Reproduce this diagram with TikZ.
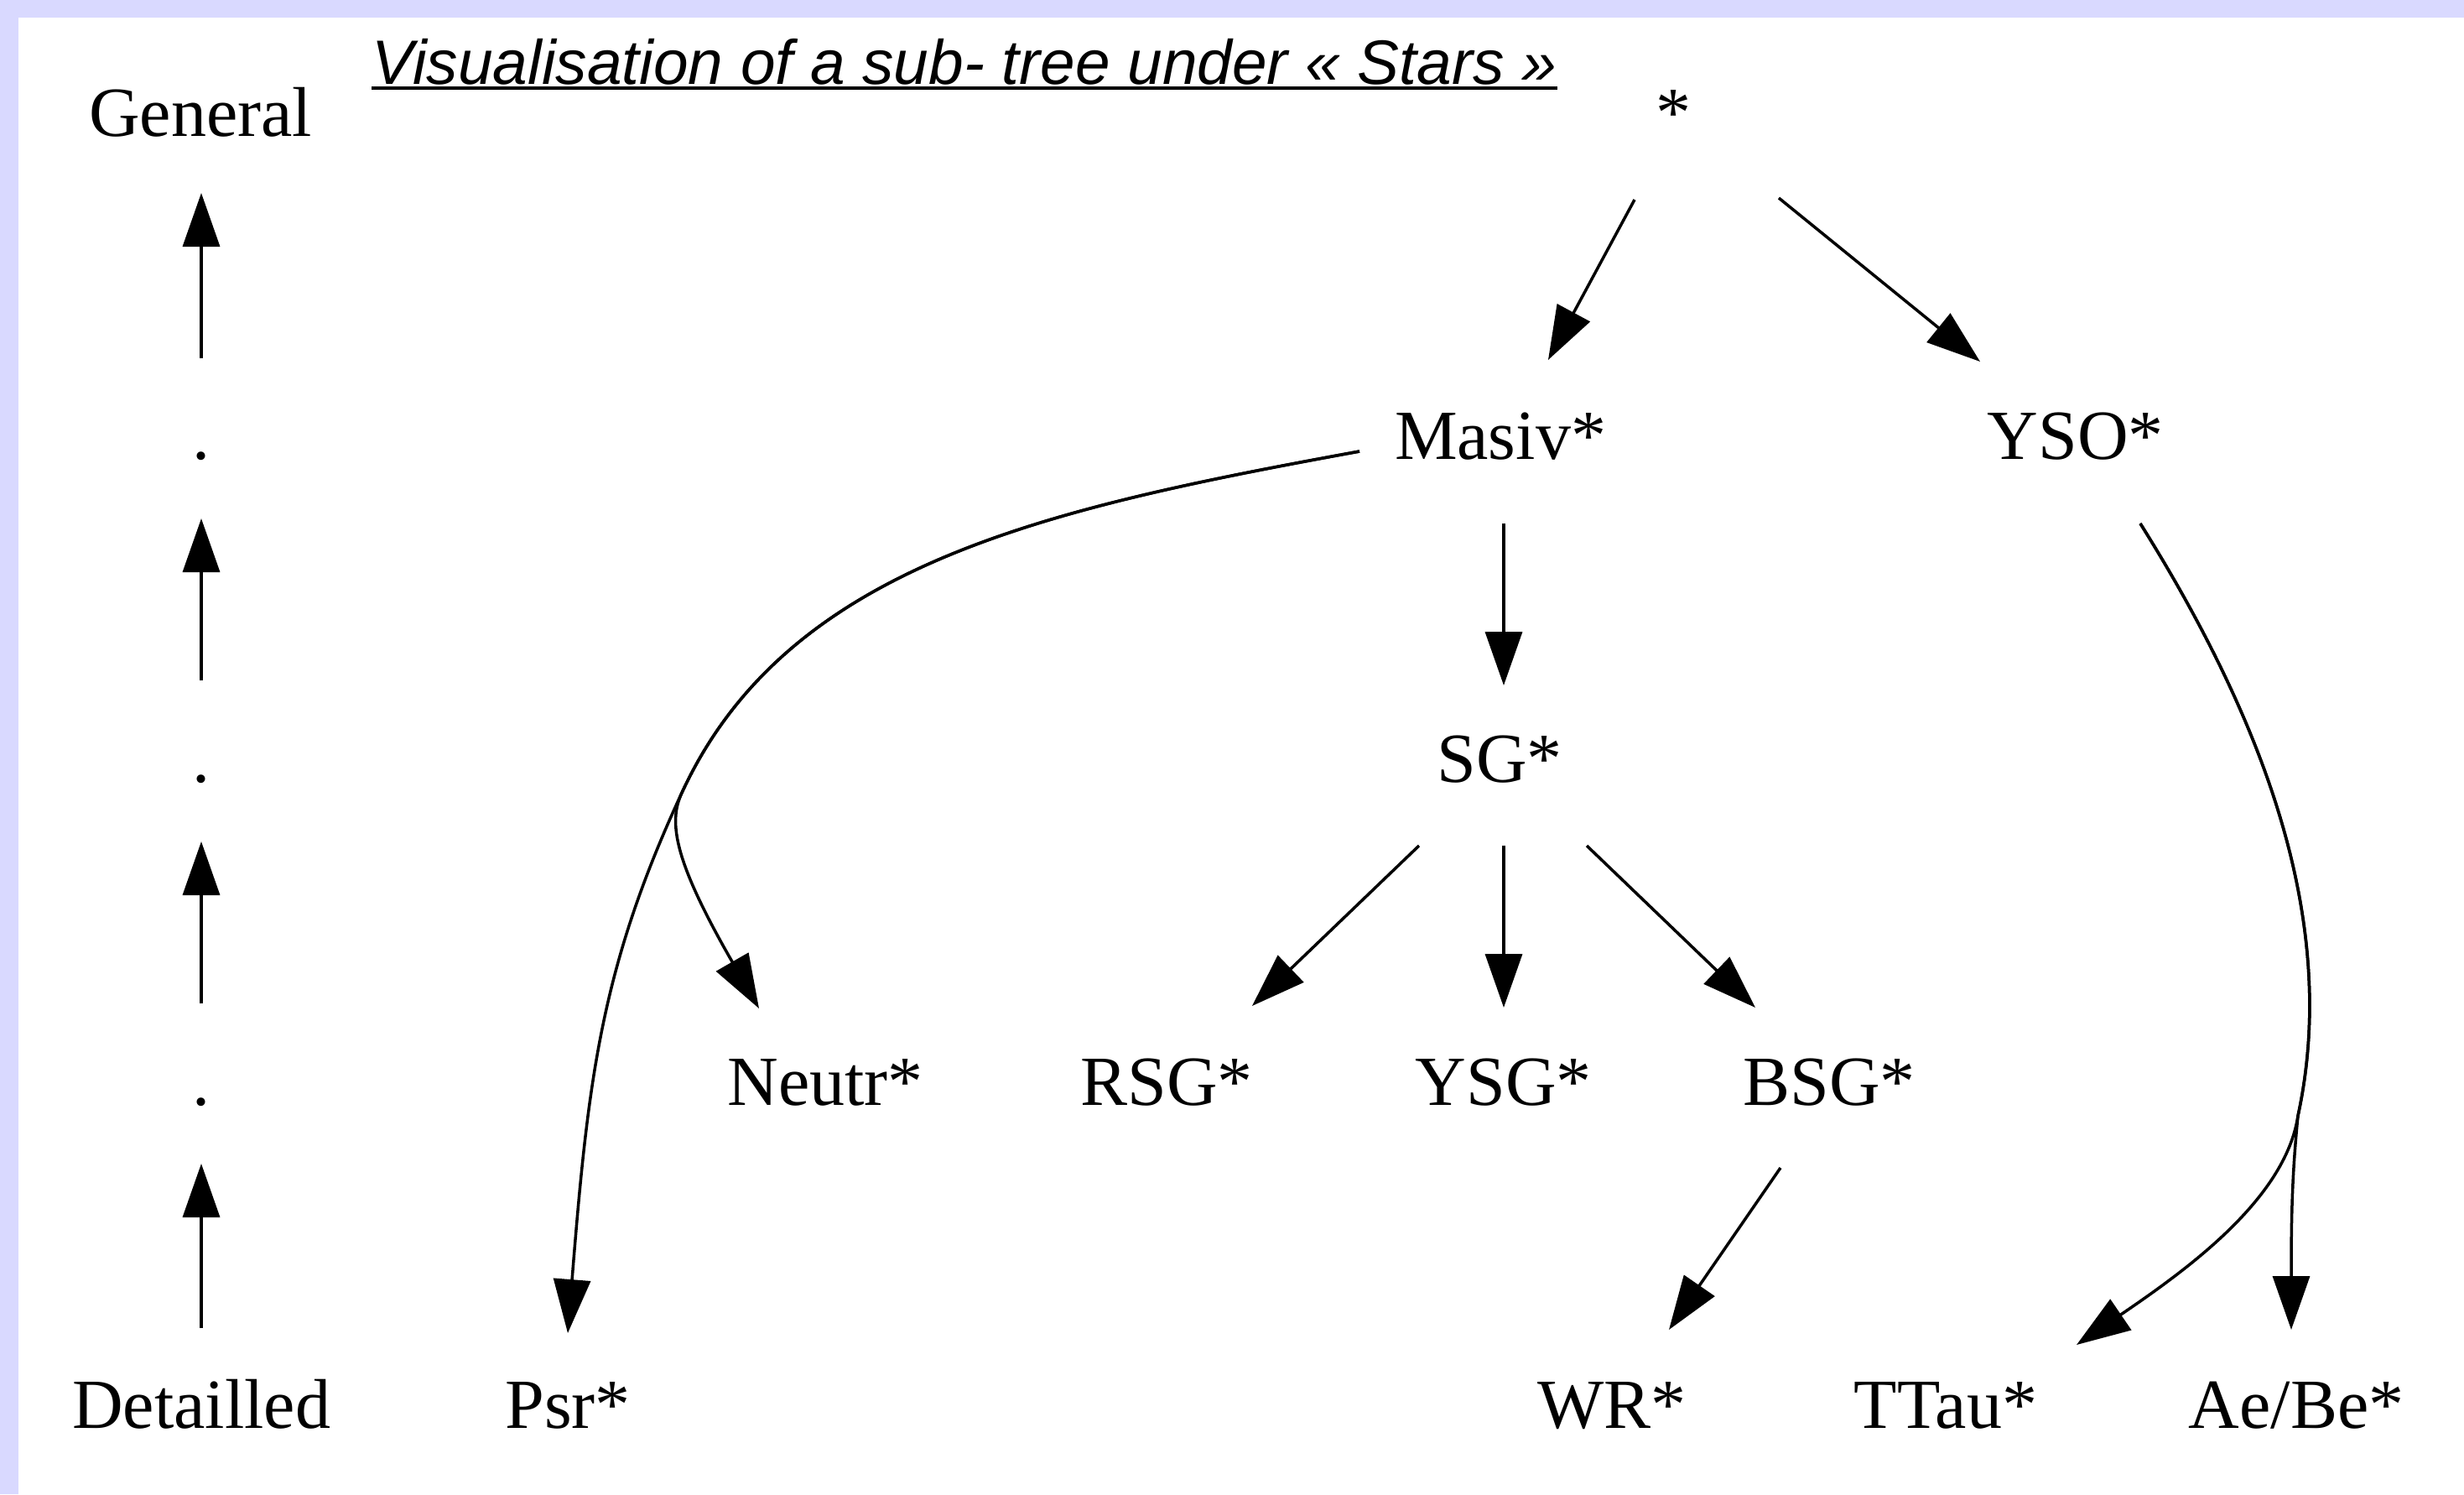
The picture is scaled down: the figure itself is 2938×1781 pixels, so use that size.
\documentclass[tikz,border=0pt]{standalone}
\usepackage{fontspec}
\setmainfont{Liberation Serif}
\newfontfamily\titlefont{Liberation Sans}
\usetikzlibrary{arrows.meta,calc}
\definecolor{framecol}{RGB}{217,217,255}
\begin{document}
\begin{tikzpicture}[x=0.25pt,y=-0.25pt,
  lbl/.style={inner sep=0pt,anchor=base,font=\fontsize{21pt}{25pt}\selectfont},
  edge/.style={line width=0.875pt,-{Triangle[length=16pt,width=11pt]}},
  titlestyle/.style={inner sep=0pt,anchor=base west,font=\titlefont\itshape\fontsize{18.7pt}{22pt}\selectfont}]

% page with a lavender frame on the top and left
\fill[framecol] (0,0) rectangle (2938,1781);
\fill[white] (22,21) rectangle (2938,1781);
\useasboundingbox (0,0) rectangle (2938,1781);

% title
\node[titlestyle] (title) at (443,100) {Visualisation of a sub- tree under « Stars »};
\draw[line width=1pt] ([yshift=-1.25pt]title.base west) -- ([yshift=-1.25pt]title.base east);

% generality scale
\node[lbl] (general)   at (239,162)  {General};
\node[lbl] (dot1)      at (240,547)  {.};
\node[lbl] (dot2)      at (240,932)  {.};
\node[lbl] (dot3)      at (240,1317) {.};
\node[lbl] (detailled) at (240,1702) {Detailled};

\draw[edge] ($(dot1.base)+(0,-120)$) -- ($(general.base)+(1,68)$);
\draw[edge] ($(dot2.base)+(0,-121)$) -- ($(dot1.base)+(0,71)$);
\draw[edge] ($(dot3.base)+(0,-121)$) -- ($(dot2.base)+(0,71)$);
\draw[edge] ($(detailled.base)+(0,-119)$) -- ($(dot3.base)+(0,70)$);

% tree nodes
\node[lbl] (star)  at (1995,162)  {*};
\node[lbl] (masiv) at (1789,547)  {Masiv*};
\node[lbl] (yso)   at (2475,547)  {YSO*};
\node[lbl] (sg)    at (1788,932)  {SG*};
\node[lbl] (neutr) at (984,1317)  {Neutr*};
\node[lbl] (rsg)   at (1391,1317) {RSG*};
\node[lbl] (ysg)   at (1793,1317) {YSG*};
\node[lbl] (bsg)   at (2181,1317) {BSG*};
\node[lbl] (psr)   at (677,1702)  {Psr*};
\node[lbl] (wr)    at (1922,1702) {WR*};
\node[lbl] (ttau)  at (2320,1702) {TTau*};
\node[lbl] (aebe)  at (2738,1702) {Ae/Be*};

% points where two edges part
\coordinate (nsplit) at (813,945);
\coordinate (ysplit) at (2740,1330);

% straight edges
\draw[edge] ($(star.base)+(-46,76)$)  -- ($(masiv.base)+(57,-118)$);
\draw[edge] ($(star.base)+(126,74)$)  -- ($(yso.base)+(-114,-116)$);
\draw[edge] ($(masiv.base)+(4,77)$)   -- ($(sg.base)+(5,-115)$);
\draw[edge] ($(sg.base)+(-96,76)$)    -- ($(rsg.base)+(102,-118)$);
\draw[edge] ($(sg.base)+(5,76)$)      -- ($(ysg.base)+(0,-116)$);
\draw[edge] ($(sg.base)+(104,76)$)    -- ($(bsg.base)+(-88,-116)$);
\draw[edge] ($(bsg.base)+(-58,75)$)   -- ($(wr.base)+(68,-117)$);

% curved edges
\draw[edge] ($(masiv.base)+(-168,-9)$) .. controls (1249,606) and (939,672) .. (nsplit)
  .. controls (716,1154) and (701,1289) .. ($(psr.base)+(0,-113)$);
\draw[edge] ($(masiv.base)+(-168,-9)$) .. controls (1249,606) and (939,672) .. (nsplit)
  .. controls (796,981) and (805,1028) .. ($(neutr.base)+(-79,-115)$);
\draw[edge] ($(yso.base)+(77,77)$) .. controls (2700,860) and (2790,1100) .. (ysplit)
  .. controls (2733,1400) and (2732,1450) .. ($(aebe.base)+(-6,-117)$);
\draw[edge] ($(yso.base)+(77,77)$) .. controls (2700,860) and (2790,1100) .. (ysplit)
  .. controls (2725,1430) and (2605,1515) .. ($(ttau.base)+(156,-99)$);
\end{tikzpicture}
\end{document}
